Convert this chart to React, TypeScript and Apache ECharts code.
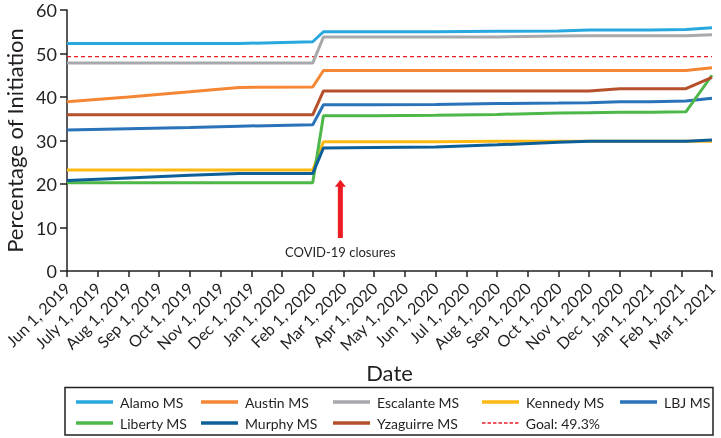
import React, { useEffect, useRef } from "react";
import * as echarts from "echarts";

const monthLabels = [
  "Jun 1, 2019", "July 1, 2019", "Aug 1, 2019", "Sep 1, 2019", "Oct 1, 2019",
  "Nov 1, 2019", "Dec 1, 2019", "Jan 1, 2020", "Feb 1, 2020", "Mar 1, 2020",
  "Apr 1, 2020", "May 1, 2020", "Jun 1, 2020", "Jul 1, 2020", "Aug 1, 2020",
  "Sep 1, 2020", "Oct 1, 2020", "Nov 1, 2020", "Dec 1, 2020", "Jan 1, 2021",
  "Feb 1, 2021", "Mar 1, 2021",
];

// x positions in months since Jun 1, 2019
const xPoints = [0, 2, 4, 5.6, 8, 8.35, 10, 12, 14, 16, 17, 18, 19, 20.15, 21];

const alamo = [52.3, 52.3, 52.3, 52.3, 52.7, 55.0, 55.0, 55.0, 55.1, 55.2, 55.4, 55.4, 55.4, 55.5, 55.9];
const austin = [38.9, 40.0, 41.2, 42.2, 42.3, 46.1, 46.1, 46.1, 46.1, 46.1, 46.1, 46.1, 46.1, 46.1, 46.7];
const escalante = [47.8, 47.8, 47.8, 47.8, 47.8, 53.8, 53.8, 53.8, 53.8, 54.0, 54.1, 54.1, 54.1, 54.1, 54.3];
const kennedy = [23.2, 23.2, 23.2, 23.2, 23.2, 29.7, 29.7, 29.7, 29.8, 29.8, 29.8, 29.8, 29.8, 29.8, 29.8];
const lbj = [32.4, 32.7, 33.0, 33.3, 33.6, 38.2, 38.2, 38.3, 38.5, 38.6, 38.7, 38.9, 38.9, 39.1, 39.7];
const liberty = [20.3, 20.3, 20.3, 20.3, 20.3, 35.7, 35.7, 35.8, 36.0, 36.3, 36.4, 36.5, 36.5, 36.6, 45.0];
const murphy = [20.8, 21.4, 22.0, 22.4, 22.4, 28.3, 28.4, 28.5, 29.0, 29.6, 29.8, 29.8, 29.8, 29.8, 30.1];
const yzaguirre = [35.9, 35.9, 35.9, 35.9, 35.9, 41.4, 41.4, 41.4, 41.4, 41.4, 41.4, 41.9, 41.9, 41.9, 44.5];

const goalName = "Goal: 49.3%";
const goalValue = 49.3;
const goalX = [0, 21];

const seriesDefs = [
  { name: "Alamo MS", values: alamo, color: "#29a8e0" },
  { name: "Austin MS", values: austin, color: "#f58634" },
  { name: "Escalante MS", values: escalante, color: "#a7a9ac" },
  { name: "Kennedy MS", values: kennedy, color: "#fdb913" },
  { name: "LBJ MS", values: lbj, color: "#2a73b9" },
  { name: "Liberty MS", values: liberty, color: "#4db848" },
  { name: "Murphy MS", values: murphy, color: "#0d5f9a" },
  { name: "Yzaguirre MS", values: yzaguirre, color: "#b5502a" },
];

const legendColumns = [
  ["Alamo MS", "Liberty MS"],
  ["Austin MS", "Murphy MS"],
  ["Escalante MS", "Yzaguirre MS"],
  ["Kennedy MS"],
  ["LBJ MS"],
];
const legendLefts = [76, 201, 333, 482, 620];

const FONT = "Lato, 'Open Sans', sans-serif";
const INK = "#231f20";
const DASH_ICON =
  "path://M0,0h3.5v1.5h-3.5zM5.5,0h3.5v1.5h-3.5zM11,0h3.5v1.5h-3.5zM16.5,0h3.5v1.5h-3.5zM22,0h3.5v1.5h-3.5zM27.5,0h3.5v1.5h-3.5zM33,0h3.5v1.5h-3.5z";

export default function App() {
  const ref = useRef<HTMLDivElement>(null);

  useEffect(() => {
    if (!ref.current) return;
    const chart = echarts.init(ref.current, undefined, { renderer: "svg" });

    const series: any[] = seriesDefs.map((s) => ({
      name: s.name,
      type: "line",
      data: xPoints.map((x, i) => [x, s.values[i]]),
      symbol: "none",
      lineStyle: { color: s.color, width: 3 },
      itemStyle: { color: s.color },
      z: 3,
    }));
    series.splice(5, 0, {
      name: goalName,
      type: "line",
      data: goalX.map((x) => [x, goalValue]),
      symbol: "none",
      lineStyle: { color: "#ed1c24", width: 1.2, type: [4, 3] },
      itemStyle: { color: "#ed1c24" },
      z: 2,
    });

    const legendText = { fontFamily: FONT, fontSize: 14, color: INK, lineHeight: 16, padding: [0, 0, 0, 2] };
    const legends: any[] = legendColumns.map((col, i) => ({
      data: col,
      icon: "rect",
      orient: "vertical",
      left: legendLefts[i],
      top: 394,
      padding: 0,
      itemWidth: 37,
      itemHeight: 3.5,
      itemGap: 5,
      selectedMode: false,
      textStyle: legendText,
    }));
    legends.push({
      data: [goalName],
      icon: DASH_ICON,
      left: legendLefts[3],
      top: 415,
      padding: 0,
      itemWidth: 37,
      itemHeight: 1.5,
      selectedMode: false,
      textStyle: legendText,
    });

    chart.setOption({
      animation: false,
      textStyle: { fontFamily: FONT },
      grid: { left: 67, right: 9, top: 10, bottom: 167, containLabel: false, outerBoundsMode: "none" },
      legend: legends,
      xAxis: {
        type: "value",
        min: 0,
        max: 21,
        interval: 1,
        name: "Date",
        nameLocation: "middle",
        nameGap: 90,
        nameTextStyle: { fontFamily: FONT, fontSize: 22, color: INK },
        axisLine: { lineStyle: { color: INK, width: 1.5 } },
        axisTick: { length: 6, lineStyle: { color: INK, width: 1.5 } },
        splitLine: { show: false },
        axisLabel: {
          formatter: (v: number) => monthLabels[Math.round(v)] ?? "",
          rotate: 45,
          fontFamily: FONT,
          fontSize: 16,
          color: INK,
          margin: 14,
        },
      },
      yAxis: {
        type: "value",
        min: 0,
        max: 60,
        interval: 10,
        name: "Percentage of Initiation",
        nameLocation: "middle",
        nameGap: 42,
        nameTextStyle: { fontFamily: FONT, fontSize: 22, color: INK },
        axisLine: { show: true, lineStyle: { color: INK, width: 1.5 } },
        axisTick: { show: true, length: 7, lineStyle: { color: INK, width: 1.5 } },
        splitLine: { show: false },
        axisLabel: { fontFamily: FONT, fontSize: 18, color: INK, margin: 10 },
      },
      series,
    });

    const tip = chart.convertToPixel({ gridIndex: 0 }, [8.9, 21]) as number[];
    const base = chart.convertToPixel({ gridIndex: 0 }, [8.9, 7.6]) as number[];
    const textPos = chart.convertToPixel({ gridIndex: 0 }, [8.9, 4.4]) as number[];
    const cx = tip[0];
    const headBase = tip[1] + 7;
    chart.setOption({
      graphic: [
        {
          type: "polygon",
          shape: {
            points: [
              [cx, tip[1]],
              [cx + 5.5, headBase],
              [cx + 2.5, headBase],
              [cx + 2.5, base[1]],
              [cx - 2.5, base[1]],
              [cx - 2.5, headBase],
              [cx - 5.5, headBase],
            ],
          },
          style: { fill: "#ed1c24" },
          z: 10,
        },
        {
          type: "text",
          x: cx,
          y: textPos[1],
          style: {
            text: "COVID-19 closures",
            fontFamily: FONT,
            fontSize: 13,
            fill: INK,
            align: "center",
            verticalAlign: "middle",
          },
          z: 10,
        },
        {
          type: "rect",
          shape: { x: 65, y: 387.5, width: 648, height: 47.5 },
          style: { fill: "none", stroke: INK, lineWidth: 1.5 },
          z: 1,
        },
      ],
    });

    return () => chart.dispose();
  }, []);

  return (
    <div
      ref={ref}
      style={{ position: "fixed", left: 0, top: 0, width: 721, height: 438 }}
    />
  );
}
